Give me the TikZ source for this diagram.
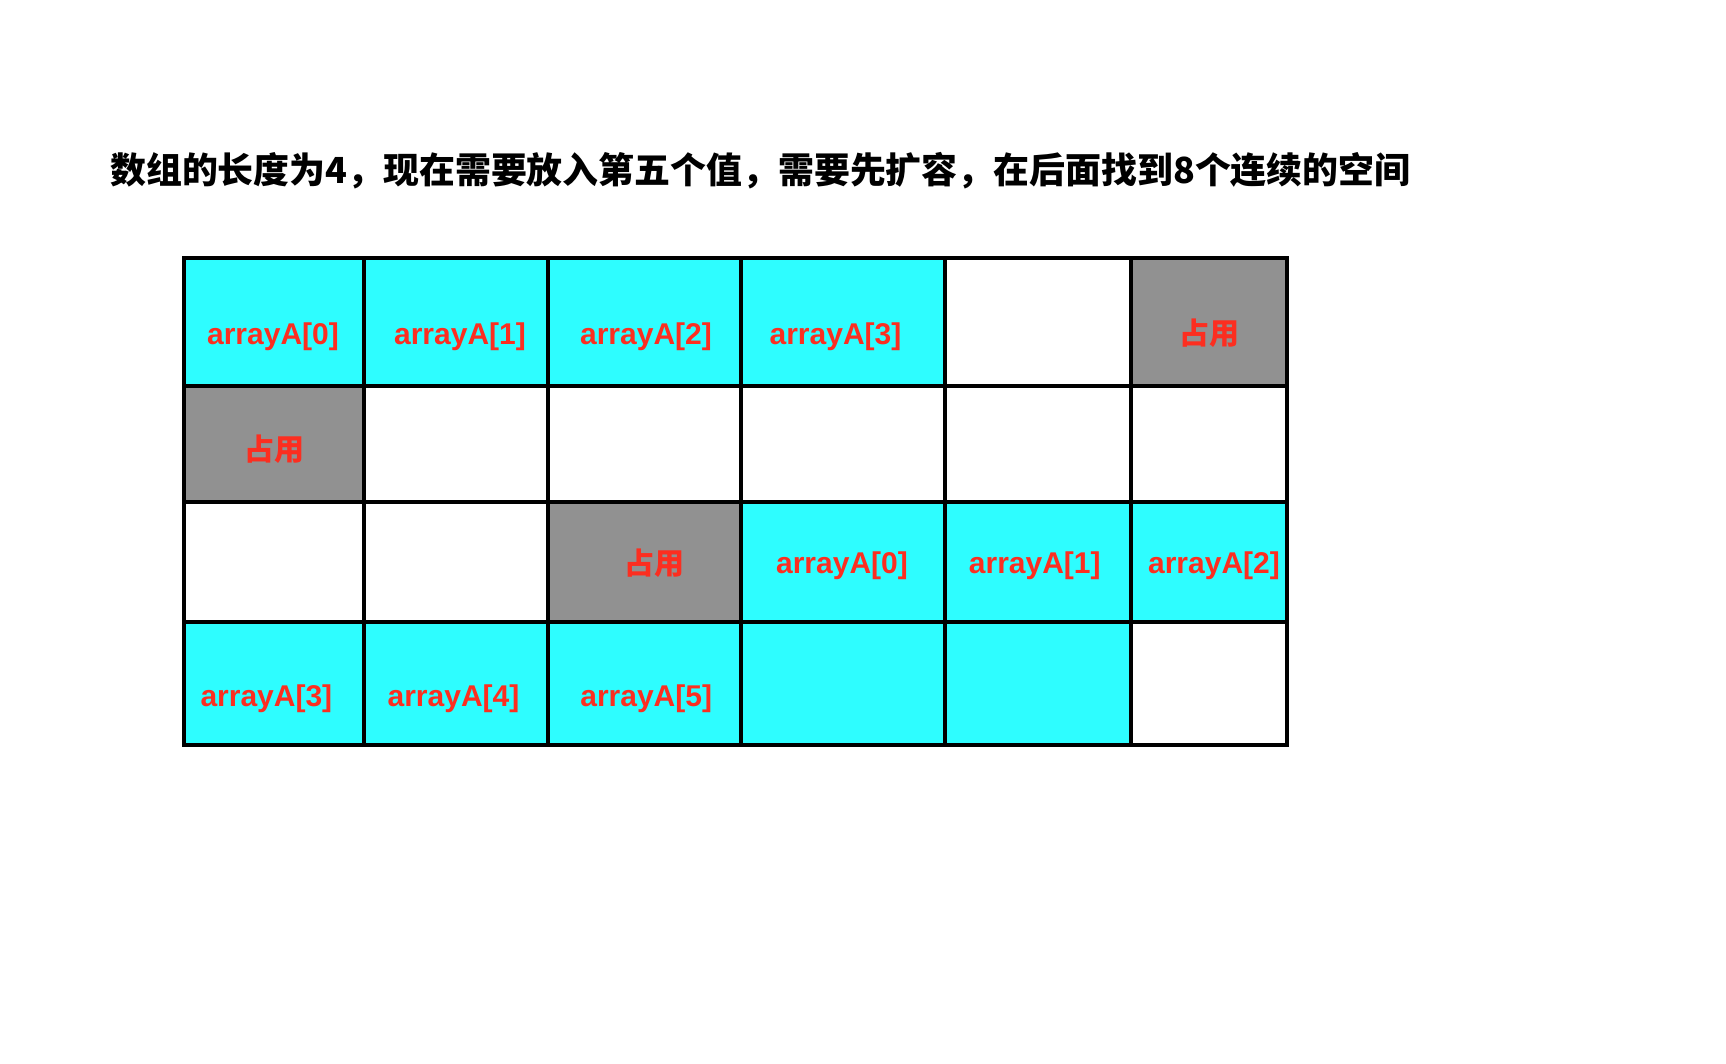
\documentclass[tikz,border=0pt]{standalone}
\usepackage{fontspec}
\setmainfont{Liberation Sans}
\newfontfamily\cjk{Noto Sans CJK SC}
\definecolor{cellcyan}{RGB}{46,253,255}
\definecolor{cellgrey}{RGB}{145,145,145}
\definecolor{txtred}{RGB}{252,46,32}
\begin{document}
\begin{tikzpicture}[x=1pt,y=-1pt,
  cellbox/.style={draw=none,inner sep=0pt,outer sep=0pt},
  arrlabel/.style={text=txtred,font=\fontsize{30}{34}\selectfont\bfseries,inner sep=0pt},
  cnlabel/.style={text=txtred,font=\cjk\fontsize{30}{34}\selectfont\bfseries,inner sep=0pt},
  gridline/.style={line width=4pt,draw=black}]
\useasboundingbox (0,0) rectangle (1726,1064);
\fill[white] (0,0) rectangle (1726,1064);
\node[anchor=west,inner sep=0pt,font=\cjk\fontsize{35.9}{40}\selectfont\bfseries] (title) at (110,170.2)
  {数组的长度为4，现在需要放入第五个值，需要先扩容，在后面找到8个连续的空间};
% columns: 183.8 364.4 548.2 740.8 944.5 1130.5 1286.8
% rows: 257.6 386.4 502 622 745.2
\foreach \n/\xa/\ya/\xb/\yb/\c in {
  c11/183.8/257.6/364.4/386.4/cellcyan, c12/364.4/257.6/548.2/386.4/cellcyan,
  c13/548.2/257.6/740.8/386.4/cellcyan, c14/740.8/257.6/944.5/386.4/cellcyan,
  c15/944.5/257.6/1130.5/386.4/white,   c16/1130.5/257.6/1286.8/386.4/cellgrey,
  c21/183.8/386.4/364.4/502/cellgrey,   c22/364.4/386.4/548.2/502/white,
  c23/548.2/386.4/740.8/502/white,      c24/740.8/386.4/944.5/502/white,
  c25/944.5/386.4/1130.5/502/white,     c26/1130.5/386.4/1286.8/502/white,
  c31/183.8/502/364.4/622/white,        c32/364.4/502/548.2/622/white,
  c33/548.2/502/740.8/622/cellgrey,     c34/740.8/502/944.5/622/cellcyan,
  c35/944.5/502/1130.5/622/cellcyan,    c36/1130.5/502/1286.8/622/cellcyan,
  c41/183.8/622/364.4/745.2/cellcyan,   c42/364.4/622/548.2/745.2/cellcyan,
  c43/548.2/622/740.8/745.2/cellcyan,   c44/740.8/622/944.5/745.2/cellcyan,
  c45/944.5/622/1130.5/745.2/cellcyan,  c46/1130.5/622/1286.8/745.2/white}
{
  \pgfmathsetmacro\w{\xb-\xa}
  \pgfmathsetmacro\h{\yb-\ya}
  \node[cellbox,fill=\c,minimum width=\w pt,minimum height=\h pt] (\n) at ({(\xa+\xb)/2},{(\ya+\yb)/2}) {};
}
\foreach \n in {c11,c12,c13,c14,c15,c16,c21,c22,c23,c24,c25,c26,c31,c32,c33,c34,c35,c36,c41,c42,c43,c44,c45,c46}
  \draw[gridline] (\n.north west) rectangle (\n.south east);
% labels
\node[arrlabel] (l11) at (273,336.8) {arrayA[0]};
\node[arrlabel] (l12) at (460,336.8) {arrayA[1]};
\node[arrlabel] (l13) at (646,336.8) {arrayA[2]};
\node[arrlabel] (l14) at (835.5,336.8) {arrayA[3]};
\node[cnlabel] (l16) at (1209.8,333.5) {占用};
\node[cnlabel] (l21) at (274,449) {占用};
\node[cnlabel] (l33) at (654,563.6) {占用};
\node[arrlabel] (l34) at (842,565.8) {arrayA[0]};
\node[arrlabel] (l35) at (1034.8,565.8) {arrayA[1]};
\node[arrlabel] (l36) at (1214,565.8) {arrayA[2]};
\node[arrlabel] (l41) at (266.4,699) {arrayA[3]};
\node[arrlabel] (l42) at (453.5,699) {arrayA[4]};
\node[arrlabel] (l43) at (646.2,699) {arrayA[5]};
\end{tikzpicture}
\end{document}
